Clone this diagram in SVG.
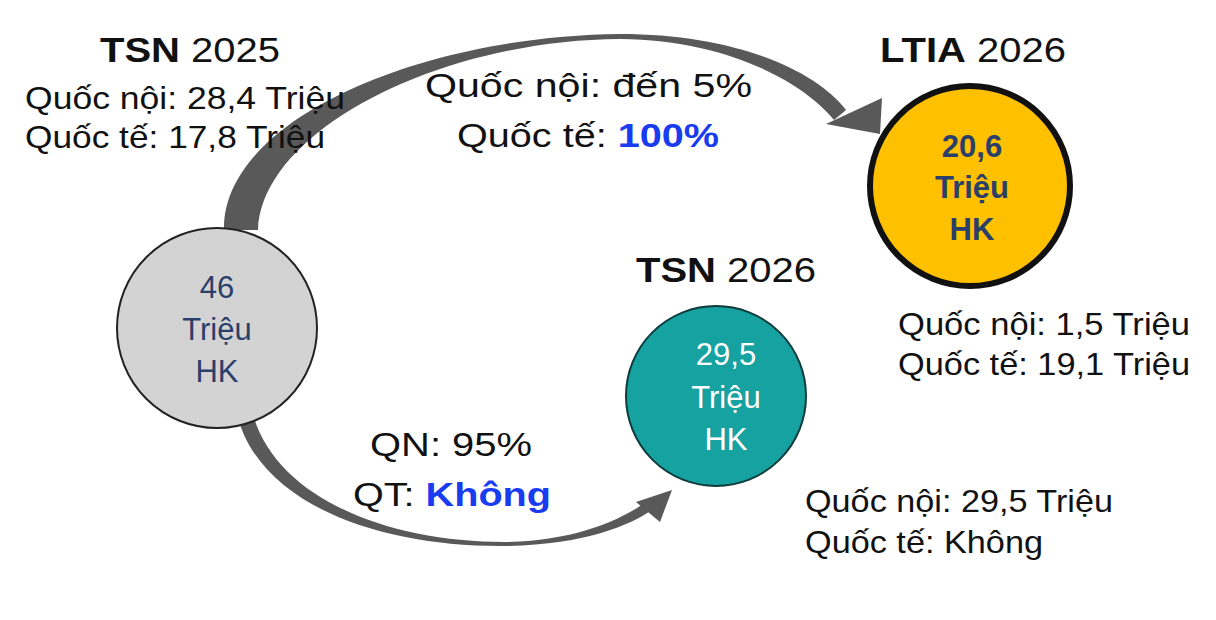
<svg xmlns="http://www.w3.org/2000/svg" width="1216" height="620" viewBox="0 0 1216 620">
<style>
text{font-family:"Liberation Sans",Arial,sans-serif;font-size:32px;fill:#111}
.t{font-size:35px}
.m{font-size:34px}
.c{font-size:31px}
.b{font-weight:bold}
.blue{fill:#1a3cf0;font-weight:bold}
.nv{fill:#2b3f6b}
.w{fill:#fff}
.arc{fill:#595959}
</style>
<rect width="1216" height="620" fill="#fff"/>
<g id="connectors">
<path class="arc" d="M224,230 C222,120 420,36 620,34 C735,34 815,70 846,110 L834,120 C805,84 730,40 620,39 C440,40 262,130 258,230 Z"/>
<polygon class="arc" points="826,124 882,98 880,134"/>
<path class="arc" d="M238,418 C262,505 380,547 505,546 C585,545 630,525 652,510 L646,502 C625,517 580,541 505,542 C390,542 280,500 254,418 Z"/>
<polygon class="arc" points="636,502 672,490 660,522"/>
</g>
<g id="tsn2025">
<circle cx="217" cy="328" r="100" fill="#d3d3d3" stroke="#222" stroke-width="2"/>
<text x="217" y="298" text-anchor="middle" class="nv c">46</text>
<text x="217" y="340" text-anchor="middle" class="nv c">Triệu</text>
<text x="217" y="382" text-anchor="middle" class="nv c">HK</text>
<text x="100" y="62" class="t" textLength="180" lengthAdjust="spacingAndGlyphs"><tspan class="b">TSN</tspan> 2025</text>
<text x="25" y="109" textLength="320" lengthAdjust="spacingAndGlyphs">Quốc nội:  28,4 Triệu</text>
<text x="25" y="148" textLength="300" lengthAdjust="spacingAndGlyphs">Quốc tế:  17,8 Triệu</text>
</g>
<g id="ltia2026">
<circle cx="970" cy="186" r="100" fill="#ffc000" stroke="#111" stroke-width="6"/>
<text x="972" y="157" text-anchor="middle" class="b nv c">20,6</text>
<text x="972" y="198" text-anchor="middle" class="b nv c">Triệu</text>
<text x="972" y="240" text-anchor="middle" class="b nv c">HK</text>
<text x="880" y="62" class="t" textLength="186" lengthAdjust="spacingAndGlyphs"><tspan class="b">LTIA</tspan> 2026</text>
<text x="898" y="335" textLength="292" lengthAdjust="spacingAndGlyphs">Quốc nội: 1,5 Triệu</text>
<text x="898" y="375" textLength="292" lengthAdjust="spacingAndGlyphs">Quốc tế: 19,1 Triệu</text>
</g>
<g id="tsn2026">
<circle cx="716" cy="396" r="90" fill="#17a2a2" stroke="#0e3b3b" stroke-width="2"/>
<text x="726" y="365" text-anchor="middle" class="w c">29,5</text>
<text x="726" y="408" text-anchor="middle" class="w c">Triệu</text>
<text x="726" y="450" text-anchor="middle" class="w c">HK</text>
<text x="636" y="282" class="t" textLength="180" lengthAdjust="spacingAndGlyphs"><tspan class="b">TSN</tspan> 2026</text>
<text x="805" y="512" textLength="308" lengthAdjust="spacingAndGlyphs">Quốc nội: 29,5 Triệu</text>
<text x="805" y="553" textLength="238" lengthAdjust="spacingAndGlyphs">Quốc tế: Không</text>
</g>
<g id="labels">
<text x="425" y="97" class="m" textLength="327" lengthAdjust="spacingAndGlyphs">Quốc nội:  đến 5%</text>
<text x="457" y="147" class="m" textLength="262" lengthAdjust="spacingAndGlyphs">Quốc tế: <tspan class="blue">100%</tspan></text>
<text x="370" y="456" class="m" textLength="162" lengthAdjust="spacingAndGlyphs">QN: 95%</text>
<text x="353" y="506" class="m" textLength="198" lengthAdjust="spacingAndGlyphs">QT: <tspan class="blue">Không</tspan></text>
</g>
</svg>
